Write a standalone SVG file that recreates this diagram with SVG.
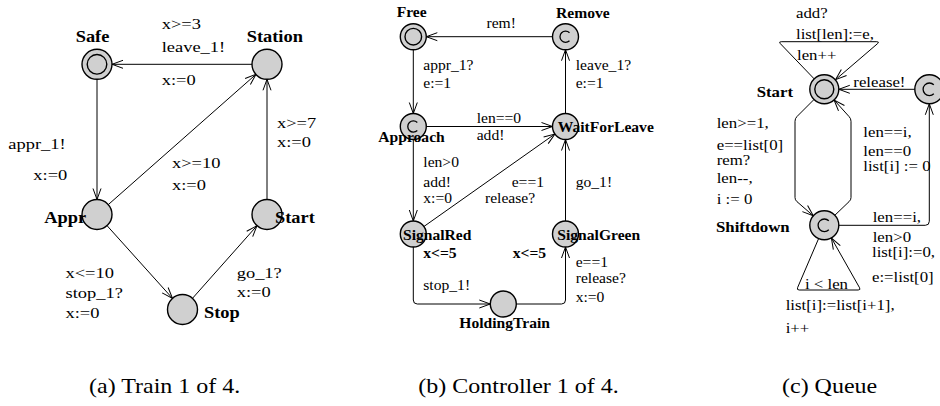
<svg xmlns="http://www.w3.org/2000/svg" width="940" height="406" viewBox="0 0 940 406">
<style>
text{font-family:"Liberation Serif","Times New Roman",serif;font-size:15px;fill:#000}
.b{font-weight:bold}
.bb{font-weight:bold;font-size:16px}
.cap{font-size:20px}
.n{fill:#d0d0d0;stroke:#000;stroke-width:1.4}
.c{fill:none;stroke:#000;stroke-width:1.3}
.e{fill:none;stroke:#000;stroke-width:1}
</style>
<defs>
<marker id="ar" markerUnits="userSpaceOnUse" markerWidth="14" markerHeight="12" refX="11" refY="4.5" orient="auto" overflow="visible">
<path d="M0,0.5 L11,4.5 L0,8.5" fill="none" stroke="#000" stroke-width="1"/>
</marker>
</defs>
<rect width="940" height="406" fill="#fff"/>

<!-- connectors -->
<g id="connectors">
<!-- (a) Train -->
<g id="a-edges">
<path class="e" d="M252.5,64.3 L112,64.3" marker-end="url(#ar)"/>
<path class="e" d="M97,79.3 L97,199.5" marker-end="url(#ar)"/>
<path class="e" d="M108.3,204.6 L256,74.3" marker-end="url(#ar)"/>
<path class="e" d="M267,199.5 L267,79.3" marker-end="url(#ar)"/>
<path class="e" d="M107,225.6 L172.5,298.4" marker-end="url(#ar)"/>
<path class="e" d="M192.5,298.3 L257,225.7" marker-end="url(#ar)"/>
<text transform="translate(161.7,29) scale(1.23,1)">x&gt;=3</text>
<text transform="translate(161.7,51.7) scale(1.23,1)">leave_1!</text>
<text transform="translate(161.7,85) scale(1.23,1)">x:=0</text>
<text transform="translate(8.3,149) scale(1.23,1)">appr_1!</text>
<text transform="translate(33.3,180) scale(1.23,1)">x:=0</text>
<text transform="translate(172,168.3) scale(1.23,1)">x&gt;=10</text>
<text transform="translate(172,190) scale(1.23,1)">x:=0</text>
<text transform="translate(277,127.5) scale(1.23,1)">x&gt;=7</text>
<text transform="translate(277,147) scale(1.23,1)">x:=0</text>
<text transform="translate(65.5,277.5) scale(1.23,1)">x&lt;=10</text>
<text transform="translate(65.5,298.3) scale(1.23,1)">stop_1?</text>
<text transform="translate(65.5,317.5) scale(1.23,1)">x:=0</text>
<text transform="translate(236.7,278.3) scale(1.23,1)">go_1?</text>
<text transform="translate(236.7,296.7) scale(1.23,1)">x:=0</text>
</g>
<!-- (b) Controller -->
<g id="b-edges">
<path class="e" d="M552.5,36.7 L426.3,36.7" marker-end="url(#ar)"/>
<path class="e" d="M413.3,49.7 L413.3,113.5" marker-end="url(#ar)"/>
<path class="e" d="M565.5,113.5 L565.5,49.7" marker-end="url(#ar)"/>
<path class="e" d="M426.3,126.5 L552.5,126.5" marker-end="url(#ar)"/>
<path class="e" d="M413.3,139.5 L413.3,221" marker-end="url(#ar)"/>
<path class="e" d="M423.9,226.5 L554.9,134" marker-end="url(#ar)"/>
<path class="e" d="M565.5,221 L565.5,139.5" marker-end="url(#ar)"/>
<path class="e" d="M413.3,247 L413.3,300 Q413.3,304 417.3,304 L490.3,304" marker-end="url(#ar)"/>
<path class="e" d="M516.3,304 L561.5,304 Q565.5,304 565.5,300 L565.5,247" marker-end="url(#ar)"/>
<text transform="translate(486.5,27.5) scale(1.04,1)">rem!</text>
<text transform="translate(423.3,70) scale(1.04,1)">appr_1?</text>
<text transform="translate(423.3,88.3) scale(1.04,1)">e:=1</text>
<text transform="translate(575.7,70) scale(1.04,1)">leave_1?</text>
<text transform="translate(575.7,88.3) scale(1.04,1)">e:=1</text>
<text transform="translate(476.7,123.3) scale(1.04,1)">len==0</text>
<text transform="translate(476.7,140) scale(1.04,1)">add!</text>
<text transform="translate(423.3,166.7) scale(1.04,1)">len&gt;0</text>
<text transform="translate(423.3,186.7) scale(1.04,1)">add!</text>
<text transform="translate(423.3,203.3) scale(1.04,1)">x:=0</text>
<text transform="translate(511.7,186.7) scale(1.04,1)">e==1</text>
<text transform="translate(485,203.3) scale(1.04,1)">release?</text>
<text transform="translate(575.7,186.7) scale(1.04,1)">go_1!</text>
<text transform="translate(423.3,290) scale(1.04,1)">stop_1!</text>
<text transform="translate(575.7,266.7) scale(1.04,1)">e==1</text>
<text transform="translate(575.7,283.3) scale(1.04,1)">release?</text>
<text transform="translate(575.7,301.7) scale(1.04,1)">x:=0</text>
</g>
<!-- (c) Queue -->
<g id="c-edges">
<path class="e" d="M814.2,78.9 L780.3,43.6 Q778.5,41.7 781.2,41.7 L876.8,41.7 Q879.7,41.7 877.6,43.6 L835.6,79.6" marker-end="url(#ar)"/>
<path class="e" d="M914.8,89.3 L838.8,89.3" marker-end="url(#ar)"/>
<path class="e" d="M814,99.5 L797,116.5 Q795,118.5 795,121.3 L795,197.5 Q795,200 797,201.7 L813.3,215.8" marker-end="url(#ar)"/>
<path class="e" d="M834.8,215.3 L849,201.7 Q851,200 851,197.5 L851,121.3 Q851,118.5 849,116.5 L834.1,100" marker-end="url(#ar)"/>
<path class="e" d="M838.8,225.3 L925.3,225.3 Q929.3,225.3 929.3,221.3 L929.3,103.8" marker-end="url(#ar)"/>
<path class="e" d="M818.6,238.6 L797.6,287.6 Q796.6,290 799.2,290 L858.2,290 Q860.8,290 859.6,287.8 L831.4,238" marker-end="url(#ar)"/>
<text transform="translate(796,18.3) scale(1.12,1)">add?</text>
<text transform="translate(796,39) scale(1.12,1)">list[len]:=e,</text>
<text transform="translate(797,60) scale(1.12,1)">len++</text>
<text transform="translate(853.3,86.8) scale(1.12,1)">release!</text>
<text transform="translate(716.7,128.3) scale(1.12,1)">len&gt;=1,</text>
<text transform="translate(716.7,150) scale(1.12,1)">e==list[0]</text>
<text transform="translate(716.7,165) scale(1.12,1)">rem?</text>
<text transform="translate(716.7,183.3) scale(1.12,1)">len--,</text>
<text transform="translate(716.7,204) scale(1.12,1)">i := 0</text>
<text transform="translate(863.3,136.7) scale(1.12,1)">len==i,</text>
<text transform="translate(863.3,155.5) scale(1.12,1)">len==0</text>
<text transform="translate(863.3,171) scale(1.12,1)">list[i] := 0</text>
<text transform="translate(872.7,221.7) scale(1.12,1)">len==i,</text>
<text transform="translate(872.7,241.7) scale(1.12,1)">len&gt;0</text>
<text transform="translate(872,256.7) scale(1.12,1)">list[i]:=0,</text>
<text transform="translate(872,281.7) scale(1.12,1)">e:=list[0]</text>
<text transform="translate(805,289.3) scale(1.12,1)">i &lt; len</text>
<text transform="translate(785.7,310) scale(1.12,1)">list[i]:=list[i+1],</text>
<text transform="translate(785.7,333.3) scale(1.12,1)">i++</text>
</g>
</g>

<!-- (a) Train nodes -->
<g id="safe"><circle class="n" cx="97" cy="64.3" r="15"/><circle class="n" cx="97" cy="64.3" r="9.8"/><text class="bb" transform="translate(75.7,41.7) scale(1.15,1)">Safe</text></g>
<g id="station"><circle class="n" cx="267" cy="64.3" r="15"/><text class="bb" transform="translate(246.7,41.7) scale(1.15,1)">Station</text></g>
<g id="appr"><circle class="n" cx="97" cy="214.5" r="15"/><text class="bb" transform="translate(44.3,222.7) scale(1.15,1)">Appr</text></g>
<g id="start-a"><circle class="n" cx="267" cy="214.5" r="15"/><text class="bb" transform="translate(275,222.7) scale(1.15,1)">Start</text></g>
<g id="stop"><circle class="n" cx="182.5" cy="309.5" r="15"/><text class="bb" transform="translate(204,318.3) scale(1.15,1)">Stop</text></g>

<!-- (b) Controller nodes -->
<g id="free"><circle class="n" cx="413.3" cy="36.7" r="13"/><circle class="n" cx="413.3" cy="36.7" r="8.3"/><text class="b" transform="translate(396.7,16.7) scale(1.04,1)">Free</text></g>
<g id="remove"><circle class="n" cx="565.5" cy="36.7" r="13"/><path class="c" d="M569.5,32.7 A5.6,5.6 0 1 0 569.5,40.7"/><text class="b" transform="translate(556,18.3) scale(1.04,1)">Remove</text></g>
<g id="approach"><circle class="n" cx="413.3" cy="126.5" r="13"/><path class="c" d="M417.3,122.5 A5.6,5.6 0 1 0 417.3,130.5"/><text class="b" transform="translate(378.3,141.7) scale(1.04,1)">Approach</text></g>
<g id="waitforleave"><circle class="n" cx="565.5" cy="126.5" r="13"/><text class="b" transform="translate(557.7,132.3) scale(1.04,1)">WaitForLeave</text></g>
<g id="signalred"><circle class="n" cx="413.3" cy="234" r="13"/><text class="b" transform="translate(403,239.5) scale(1.04,1)">SignalRed</text><text class="b" transform="translate(423.3,257.5) scale(1.04,1)">x&lt;=5</text></g>
<g id="signalgreen"><circle class="n" cx="565.5" cy="234" r="13"/><text class="b" transform="translate(557.3,240) scale(1.04,1)">SignalGreen</text><text class="b" transform="translate(512.7,257.5) scale(1.04,1)">x&lt;=5</text></g>
<g id="holdingtrain"><circle class="n" cx="503.3" cy="304" r="13"/><text class="b" transform="translate(459.3,328.3) scale(1.04,1)">HoldingTrain</text></g>

<!-- (c) Queue nodes -->
<g id="start-q"><circle class="n" cx="824.3" cy="89.3" r="14.5"/><circle class="n" cx="824.3" cy="89.3" r="9.5"/><text class="b" transform="translate(756.7,96.7) scale(1.12,1)">Start</text></g>
<g id="release-c"><circle class="n" cx="929.3" cy="89.3" r="14.5"/><path class="c" d="M933.8,84.8 A6.3,6.3 0 1 0 933.8,93.8"/></g>
<g id="shiftdown"><circle class="n" cx="824.3" cy="225.3" r="14.5"/><path class="c" d="M828.8,220.8 A6.3,6.3 0 1 0 828.8,229.8"/><text class="b" transform="translate(716,231.7) scale(1.12,1)">Shiftdown</text></g>

<!-- captions -->
<g id="captions">
<text class="cap" transform="translate(89,393) scale(1.2,1)">(a) Train 1 of 4.</text>
<text class="cap" transform="translate(418.3,393) scale(1.2,1)">(b) Controller 1 of 4.</text>
<text class="cap" transform="translate(782,393) scale(1.2,1)">(c) Queue</text>
</g>
</svg>
